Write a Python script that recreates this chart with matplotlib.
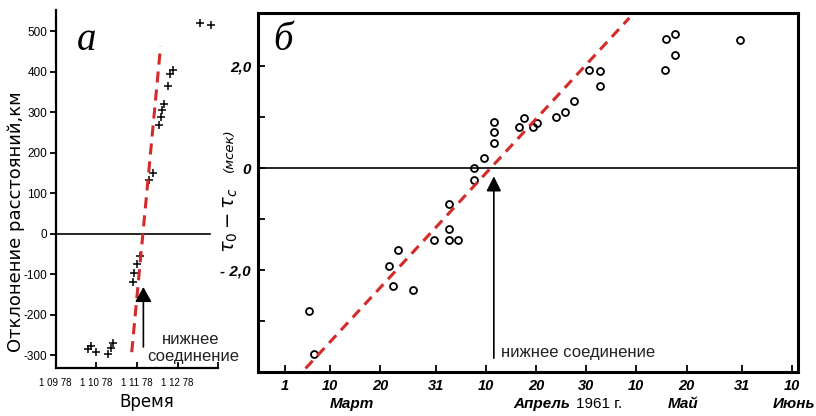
import matplotlib
matplotlib.use("Agg")
import matplotlib.pyplot as plt
import matplotlib.transforms as mtransforms

plt.rcParams['lines.scale_dashes'] = False

# ---------------- data: panel a ----------------
a_months = [0.80, 0.86, 0.98, 1.29, 1.36, 1.41, 1.89, 1.93, 1.99, 2.07,
            2.30, 2.39, 2.53, 2.58, 2.62, 2.67, 2.76, 2.80, 2.88, 3.54, 3.82]
a_vals = [-285, -277, -292, -297, -283, -270, -119, -98, -76, -55,
          132, 150, 268, 287, 306, 319, 365, 393, 403, 520, 514]
a_fit_x = [1.87, 2.58]
a_fit_y = [-293, 462]
a_arrow_x = 2.157
a_arrow_y = [-280, -132]
a_xticks = [0, 1, 2, 3, 4]
a_xticklabels = ["1 09 78", "1 10 78", "1 11 78", "1 12 78", ""]
a_yticks = [-300, -200, -100, 0, 100, 200, 300, 400, 500]
a_yticklabels = ["-300", "-200", "-100", "0", "100", "200", "300", "400", "500"]

# ---------------- data: panel б ----------------
b_days = [4.8, 5.7, 20.7, 21.6, 22.5, 25.4, 29.6, 32.6, 32.6, 32.6, 34.5,
          37.6, 37.7, 39.7, 41.6, 41.6, 41.6, 46.6, 47.7, 49.5, 50.3, 53.9,
          55.7, 57.6, 60.6, 62.7, 62.7, 75.8, 75.9, 77.6, 77.7, 90.7]
b_vals = [-2.79, -3.63, -1.91, -2.30, -1.60, -2.39, -1.40, -0.71, -1.20, -1.40, -1.40,
          -0.23, 0.0, 0.20, 0.49, 0.70, 0.90, 0.81, 0.99, 0.80, 0.89, 1.01,
          1.10, 1.32, 1.92, 1.91, 1.61, 1.92, 2.53, 2.21, 2.63, 2.51]
b_fit_x = [4.1, 68.6]
b_fit_y = [-3.92, 2.94]
b_arrow_x = 41.6
b_arrow_y = [-3.72, -0.16]
b_xticks = [0, 9, 19, 30, 40, 50, 60, 70, 80, 91, 101]
b_xticklabels = ["1", "10", "20", "31", "10", "20", "30", "10", "20", "31", "10"]
b_yticks = [-3, -2, -1, 0, 1, 2]
b_yticklabels = ["", "- 2,0", "", "0", "", "2,0"]
b_months = ["Март", "Апрель", "Май", "Июнь"]
b_month_x = [13.3, 51.2, 79.3, 105.6]
b_month_ha = ["center", "center", "center", "right"]

RED = "#d42a2a"
SANS = ['Liberation Sans', 'DejaVu Sans']
SERIF = ['Liberation Serif', 'DejaVu Serif']

fig = plt.figure(figsize=(8.16, 4.16), dpi=100)
W, H = 816.0, 416.0

def box(l, t, r, b):
    return [l / W, 1 - b / H, (r - l) / W, (b - t) / H]

# ---------------- panel a ----------------
ax = fig.add_axes(box(55.7, 10, 218.3, 368))
ax.set_xlim(0, 4)
ax.set_ylim(-332, 552)
for s in ['top', 'right']:
    ax.spines[s].set_visible(False)
for s in ['left', 'bottom']:
    ax.spines[s].set_linewidth(1.6)
ax.plot([0, 3.8], [0, 0], color='k', lw=1.2)
ax.plot(a_months, a_vals, '+', color='k', ms=6, mew=1.1)
ax.plot(a_fit_x, a_fit_y, color=RED, lw=2.2, dashes=(8, 5))
ax.annotate('', xy=(a_arrow_x, a_arrow_y[1]), xytext=(a_arrow_x, a_arrow_y[0]),
            arrowprops=dict(arrowstyle='-|>,head_length=0.9,head_width=0.5',
                            color='k', lw=1.2, shrinkA=0, shrinkB=0))
ax.set_yticks(a_yticks)
ax.set_yticklabels(a_yticklabels, family=SANS, fontsize=8.5)
ax.set_xticks(a_xticks)
ax.set_xticklabels(a_xticklabels, family=SANS, fontsize=7)
ax.tick_params(axis='y', direction='out', length=4, width=1.3, pad=2)
ax.tick_params(axis='x', direction='in', length=4, width=1.3, pad=7)
fig.text(16 / W, 1 - 222 / H, "Отклонение расстояний,км", rotation=90,
         ha='center', va='center', fontsize=13, family='DejaVu Sans')
fig.text(147 / W, 1 - 402 / H, "Время", ha='center', va='center',
         fontsize=12, family='DejaVu Sans')
fig.text(77 / W, 1 - 50 / H, "a", ha='left', va='baseline', fontsize=28,
         family=SERIF, style='italic')
fig.text(191 / W, 1 - 340 / H, "нижнее", ha='center', va='center',
         fontsize=12, family=SANS, color='#222222')
fig.text(193 / W, 1 - 356 / H, "соединение", ha='center', va='center',
         fontsize=12, family=SANS, color='#222222')

# ---------------- panel б ----------------
bx = fig.add_axes(box(258, 13.3, 798, 372))
bx.set_xlim(-5.38, 102.2)
bx.set_ylim(-3.99, 3.03)
for s in bx.spines.values():
    s.set_linewidth(2.2)
bx.axhline(0, color='k', lw=1.2)
bx.plot(b_days, b_vals, 'o', mfc='none', mec='k', ms=5, mew=1.3)
bx.plot(b_fit_x, b_fit_y, color=RED, lw=2.2, dashes=(7.5, 5))
bx.annotate('', xy=(b_arrow_x, b_arrow_y[1]), xytext=(b_arrow_x, b_arrow_y[0]),
            arrowprops=dict(arrowstyle='-|>,head_length=0.9,head_width=0.45',
                            color='k', lw=1.2, shrinkA=0, shrinkB=0))
bx.text(43.0, -3.61, "нижнее соединение", ha='left', va='center',
        fontsize=12, family=SANS, color='#222222')
bx.set_xticks(b_xticks)
bx.set_xticklabels(b_xticklabels, family=SANS, fontsize=10.5, style='italic',
                   weight='bold')
bx.set_yticks(b_yticks)
bx.set_yticklabels(b_yticklabels, family=SANS, fontsize=11, style='italic',
                   weight='bold')
bx.tick_params(axis='both', direction='in', length=5, width=1.3)
bx.tick_params(axis='x', pad=5)
bx.tick_params(axis='y', pad=5)
trans = mtransforms.blended_transform_factory(bx.transData, fig.transFigure)
for name, xm, ha in zip(b_months, b_month_x, b_month_ha):
    fig.text(xm, 1 - 404 / H, name, transform=trans, ha=ha, va='center',
             fontsize=11, family=SANS, style='italic', weight='bold')
fig.text(576 / W, 1 - 404 / H, "1961 г.", ha='left', va='center',
         fontsize=11, family=SANS)
fig.text(273 / W, 1 - 50 / H, "б", ha='left', va='baseline', fontsize=28,
         family=SERIF, style='italic')
fig.text(231 / W, 1 - 220 / H, r"$\tau_0 - \tau_c$", rotation=90,
         ha='center', va='center', fontsize=14)
fig.text(229 / W, 1 - 150 / H, "(мсек)", rotation=90, ha='center',
         va='center', fontsize=9.5, family='DejaVu Sans', style='italic')

fig.savefig("out.png", dpi=100)
